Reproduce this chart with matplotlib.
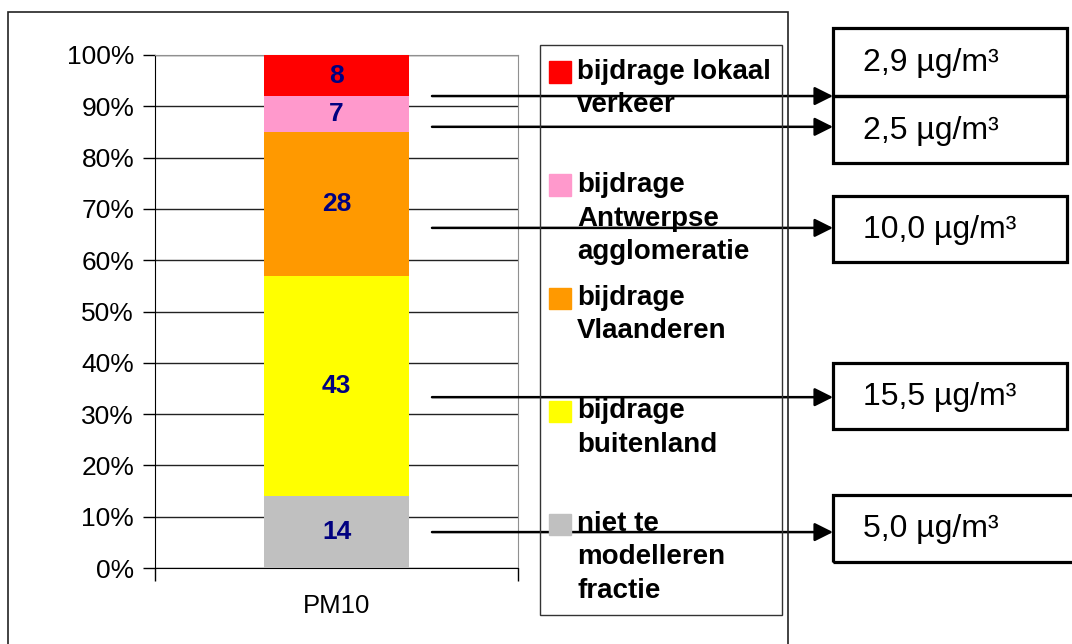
import numpy as np
import matplotlib
matplotlib.use('Agg')
import matplotlib.pyplot as plt
from matplotlib.patches import Rectangle

plt.rcParams['font.family'] = ['Liberation Sans', 'DejaVu Sans']

# data (bottom to top of the stack)
category = 'PM10'
labels = ['niet te\nmodelleren\nfractie', 'bijdrage\nbuitenland', 'bijdrage\nVlaanderen',
          'bijdrage\nAntwerpse\nagglomeratie', 'bijdrage lokaal\nverkeer']
shares = [14, 43, 28, 7, 8]
colors = ['#C0C0C0', '#FFFF00', '#FF9900', '#FF99CC', '#FF0000']
concentrations = [5.0, 15.5, 10.0, 2.5, 2.9]
arrow_levels = [7.0, 33.3, 66.3, 86.0, 92.0]

W, H = 1072, 644


def fx(px):
    return px / W


def fy(py):
    return 1 - py / H


fig = plt.figure(figsize=(W / 100, H / 100), dpi=100)
ax = fig.add_axes([fx(155), fy(568), (518 - 155) / W, (568 - 55) / H])

# stacked bar
bottom = 0
for val, col in zip(shares, colors):
    ax.bar(0, val, width=0.4, bottom=bottom, color=col, zorder=3)
    ax.text(0, bottom + val / 2, str(val), ha='center', va='center', fontsize=19,
            fontweight='bold', color='#000080', zorder=4)
    bottom += val

ax.set_xlim(-0.5, 0.5)
ax.set_ylim(0, 100)
ax.set_yticks(np.arange(0, 101, 10))
ax.set_yticklabels(['%d%%' % v for v in range(0, 101, 10)], fontsize=19)
ax.yaxis.grid(True, color='#222222', linewidth=1, zorder=0)
ax.tick_params(axis='y', direction='out', length=9, width=1, pad=6)
ax.set_xticks([-0.5, 0.5])
ax.set_xticklabels([])
ax.tick_params(axis='x', direction='out', length=9, width=1)
ax.text(0, -7.5, category, ha='center', va='center', fontsize=18.5)
for s in ['top', 'right']:
    ax.spines[s].set_color('#909090')
for s in ['left', 'bottom']:
    ax.spines[s].set_color('black')

# outer frame of the chart
fig.patches.append(Rectangle((fx(8), fy(660)), fx(788) - fx(8), fy(12) - fy(660),
                             transform=fig.transFigure, fill=False, lw=1.2,
                             edgecolor='#222222'))

# legend drawn by hand
fig.patches.append(Rectangle((fx(540), fy(615)), fx(782) - fx(540), fy(45) - fy(615),
                             transform=fig.transFigure, fill=False, lw=1.0,
                             edgecolor='#333333'))
for i, (lab, col) in enumerate(zip(labels[::-1], colors[::-1])):
    y0 = 72 + 113 * i
    fig.patches.append(Rectangle((fx(549), fy(y0 + 10.5)), 22 / W, 21 / H,
                                 transform=fig.transFigure, color=col))
    for j, line in enumerate(lab.split('\n')):
        fig.text(fx(577), fy(y0 + 33.5 * j), line, fontsize=20, fontweight='bold',
                 ha='left', va='center')

# value boxes with arrows
box_rows = [(495, 562), (363, 429), (196, 262), (96, 163), (28, 96)]
for conc, lvl, (top, bot) in zip(concentrations, arrow_levels, box_rows):
    right = 1080 if bot > 500 else 1067
    fig.patches.append(Rectangle((fx(833), fy(bot)), fx(right) - fx(833), fy(top) - fy(bot),
                                 transform=fig.transFigure, fill=False, lw=2.3,
                                 edgecolor='black'))
    fig.text(fx(863), fy((top + bot) / 2 + 1), ('%.1f' % conc).replace('.', ',') + ' µg/m³',
             fontsize=23, ha='left', va='center')
    ax.annotate('', xy=(833, lvl), xytext=(432, lvl),
                xycoords=('figure pixels', 'data'), textcoords=('figure pixels', 'data'),
                arrowprops=dict(arrowstyle='-|>', lw=1.8, color='black',
                                mutation_scale=28, shrinkA=0, shrinkB=0),
                annotation_clip=False)

fig.savefig('out.png', dpi=100)
